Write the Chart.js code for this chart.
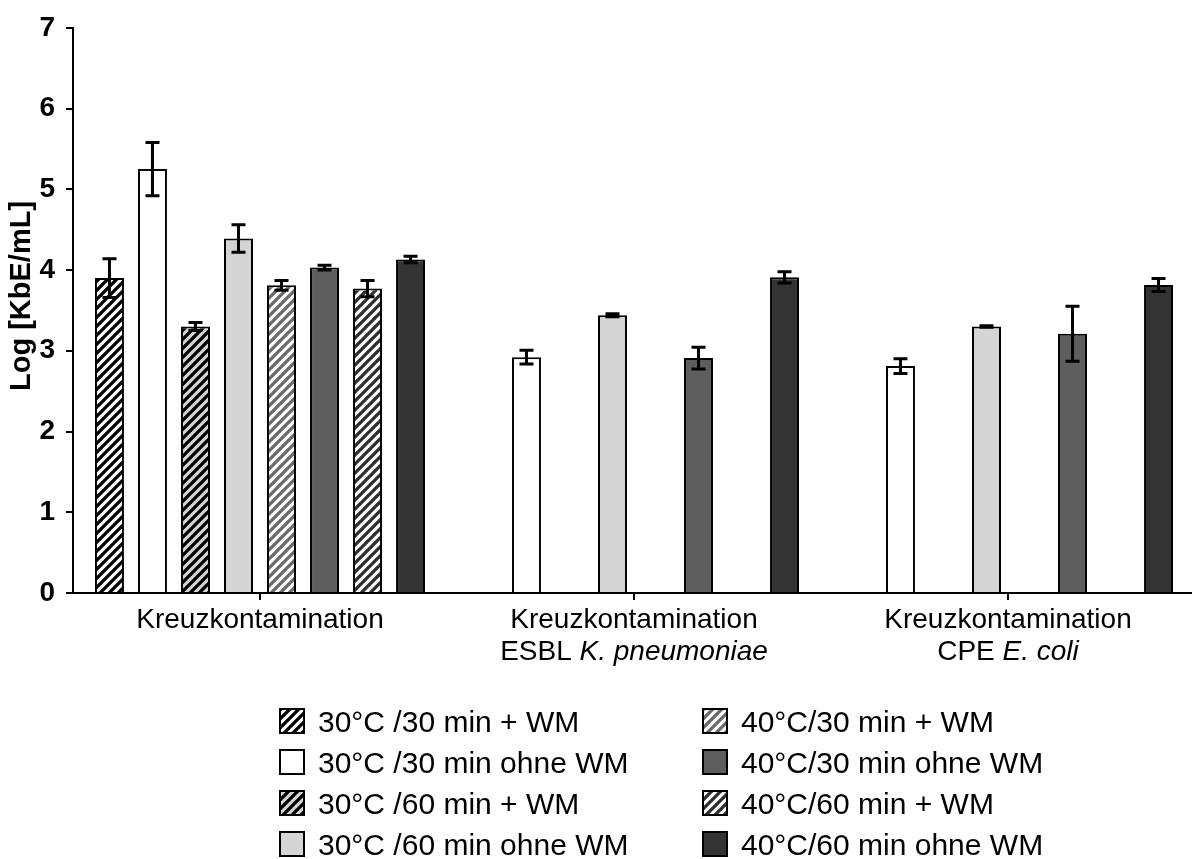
<!DOCTYPE html>
<html>
<head>
<meta charset="utf-8">
<title>Kreuzkontamination</title>
<script src="https://cdn.jsdelivr.net/npm/chart.js@4.4.1/dist/chart.umd.min.js"></script>
<style>
  html, body { margin: 0; padding: 0; background: #fff; overflow: hidden; }
  /* slightly wider than the window: the x axis runs off the right edge like in the original */
  .chart-wrap { position: relative; width: 1195px; height: 859px; }
</style>
</head>
<body>
<div class="chart-wrap"><canvas id="barCanvas"></canvas></div>
<script>
// Groups on the x axis (second line: plain part + italic part)
const groupLabels = ['Kreuzkontamination', 'Kreuzkontamination', 'Kreuzkontamination'];
const groupSubPlain = ['', 'ESBL ', 'CPE '];
const groupSubItalic = ['', 'K. pneumoniae', 'E. coli'];
const yTitle = 'Log [KbE/mL]';

// Series names (legend)
const seriesNames = [
  '30°C /30 min + WM', '30°C /30 min ohne WM', '30°C /60 min + WM', '30°C /60 min ohne WM',
  '40°C/30 min + WM', '40°C/30 min ohne WM', '40°C/60 min + WM', '40°C/60 min ohne WM'
];

// Log [KbE/mL] means and error bars per series (null = not measured)
const t30m30WM = [3.90, null, null];
const t30m30WMErr = [0.24, null, null];
const t30m30ohne = [5.25, 2.92, 2.81];
const t30m30ohneErr = [0.33, 0.085, 0.09];
const t30m60WM = [3.30, null, null];
const t30m60WMErr = [0.05, null, null];
const t30m60ohne = [4.39, 3.44, 3.30];
const t30m60ohneErr = [0.17, 0.02, 0.01];
const t40m30WM = [3.81, null, null];
const t40m30WMErr = [0.06, null, null];
const t40m30ohne = [4.03, 2.91, 3.21];
const t40m30ohneErr = [0.03, 0.135, 0.34];
const t40m60WM = [3.77, null, null];
const t40m60WMErr = [0.10, null, null];
const t40m60ohne = [4.13, 3.91, 3.815];
const t40m60ohneErr = [0.04, 0.07, 0.08];

const FONT = '"Liberation Sans", Arial, Helvetica, sans-serif';
Chart.defaults.font.family = FONT;
Chart.defaults.color = '#000';

// diagonal "/" hatch pattern
function hatch(bg, fg) {
  const s = 9;
  const c = document.createElement('canvas');
  c.width = s; c.height = s;
  const g = c.getContext('2d');
  g.fillStyle = bg;
  g.fillRect(0, 0, s, s);
  g.strokeStyle = fg;
  g.lineWidth = 3.3;
  g.beginPath();
  g.moveTo(-2, s + 2); g.lineTo(s + 2, -2);
  g.moveTo(-2, 2); g.lineTo(2, -2);
  g.moveTo(s - 2, s + 2); g.lineTo(s + 2, s - 2);
  g.stroke();
  return g.createPattern(c, 'repeat');
}

const fills = [
  hatch('#ffffff', '#000000'),
  '#ffffff',
  hatch('#d4d4d4', '#000000'),
  '#d4d4d4',
  hatch('#ffffff', '#6a6a6a'),
  '#5e5e5e',
  hatch('#ffffff', '#2e2e2e'),
  '#333333'
];

const seriesData = [t30m30WM, t30m30ohne, t30m60WM, t30m60ohne, t40m30WM, t40m30ohne, t40m60WM, t40m60ohne];
const seriesErr = [t30m30WMErr, t30m30ohneErr, t30m60WMErr, t30m60ohneErr, t40m30WMErr, t40m30ohneErr, t40m60WMErr, t40m60ohneErr];

const datasets = seriesNames.map((name, i) => ({
  label: name,
  data: seriesData[i],
  errors: seriesErr[i],
  backgroundColor: fills[i],
  borderColor: '#000',
  borderWidth: 2,
  categoryPercentage: 0.92,
  barPercentage: 0.674
}));

// error bars drawn through the y scale
const errorBars = {
  id: 'errorBars',
  afterDatasetsDraw(chart) {
    const { ctx } = chart;
    const y = chart.scales.y;
    ctx.save();
    ctx.strokeStyle = '#000';
    ctx.lineWidth = 3;
    chart.data.datasets.forEach((ds, i) => {
      chart.getDatasetMeta(i).data.forEach((bar, j) => {
        const v = ds.data[j];
        if (v == null) return;
        const top = y.getPixelForValue(v + ds.errors[j]);
        const bot = y.getPixelForValue(v - ds.errors[j]);
        ctx.beginPath();
        ctx.moveTo(bar.x, top); ctx.lineTo(bar.x, bot);
        ctx.moveTo(bar.x - 7, top); ctx.lineTo(bar.x + 7, top);
        ctx.moveTo(bar.x - 7, bot); ctx.lineTo(bar.x + 7, bot);
        ctx.stroke();
      });
    });
    ctx.restore();
  }
};

// x labels with italic species names + y title
const axisText = {
  id: 'axisText',
  afterDraw(chart) {
    const { ctx } = chart;
    const x = chart.scales.x;
    const regular = '28px ' + FONT;
    const italic = 'italic 28px ' + FONT;
    ctx.save();
    ctx.fillStyle = '#000';
    ctx.textBaseline = 'alphabetic';
    groupLabels.forEach((t, i) => {
      const px = x.getPixelForValue(i);
      ctx.font = regular;
      ctx.textAlign = 'center';
      ctx.fillText(t, px, x.top + 35);
      if (!groupSubPlain[i] && !groupSubItalic[i]) return;
      const w1 = ctx.measureText(groupSubPlain[i]).width;
      ctx.font = italic;
      const w2 = ctx.measureText(groupSubItalic[i]).width;
      const sx = px - (w1 + w2) / 2;
      ctx.textAlign = 'left';
      ctx.font = regular;
      ctx.fillText(groupSubPlain[i], sx, x.top + 67);
      ctx.font = italic;
      ctx.fillText(groupSubItalic[i], sx + w1, x.top + 67);
    });

    // rotated y title, sits a little above the axis middle like the original
    ctx.translate(22, 296);
    ctx.rotate(-Math.PI / 2);
    ctx.font = 'bold 29px ' + FONT;
    ctx.textAlign = 'center';
    ctx.textBaseline = 'middle';
    ctx.fillText(yTitle, 0, 0);
    ctx.restore();
  }
};

// two-column legend, series 1-4 left, 5-8 right
const legendCols = {
  id: 'legendCols',
  afterDraw(chart) {
    const { ctx } = chart;
    const colX = [280, 703];
    const rowY = [721, 762, 803, 844];
    const box = 24;
    ctx.save();
    ctx.font = '30px ' + FONT;
    ctx.textAlign = 'left';
    ctx.textBaseline = 'alphabetic';
    chart.data.datasets.forEach((ds, i) => {
      const cx = colX[Math.floor(i / 4)];
      const cy = rowY[i % 4];
      ctx.fillStyle = ds.backgroundColor;
      ctx.fillRect(cx, cy - box / 2, box, box);
      ctx.strokeStyle = '#000';
      ctx.lineWidth = 2;
      ctx.strokeRect(cx, cy - box / 2, box, box);
      ctx.fillStyle = '#000';
      ctx.fillText(ds.label, cx + box + 14, cy + 11);
    });
    ctx.restore();
  }
};

new Chart(document.getElementById('barCanvas'), {
  type: 'bar',
  data: { labels: groupLabels, datasets: datasets },
  options: {
    responsive: true,
    maintainAspectRatio: false,
    animation: false,
    layout: { padding: { top: 22, left: 0, right: 0, bottom: 0 } },
    plugins: { legend: { display: false }, tooltip: { enabled: false } },
    scales: {
      x: {
        ticks: { display: false },
        grid: { display: true, drawOnChartArea: false, offset: false, tickLength: 7, color: '#000', lineWidth: 2 },
        border: { color: '#000', width: 2 },
        afterFit: (scale) => { scale.height = 266; }
      },
      y: {
        min: 0,
        max: 7,
        ticks: { stepSize: 1, padding: 11, font: { size: 28, weight: 'bold' } },
        grid: { display: true, drawOnChartArea: false, tickLength: 7, color: '#000', lineWidth: 2 },
        border: { color: '#000', width: 2 },
        afterFit: (scale) => { scale.width = 73; }
      }
    }
  },
  plugins: [errorBars, axisText, legendCols]
});
</script>
</body>
</html>
